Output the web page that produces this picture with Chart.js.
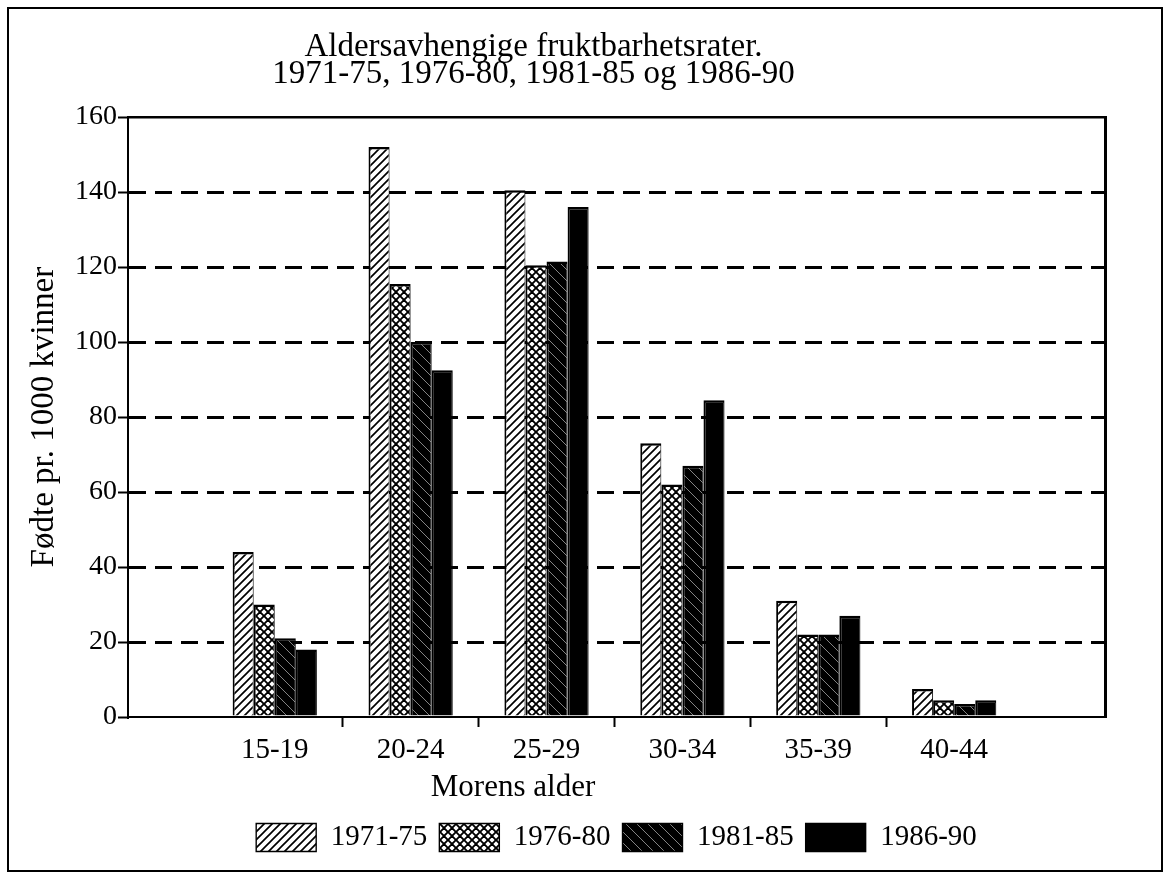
<!DOCTYPE html>
<html>
<head>
<meta charset="utf-8">
<script src="https://cdn.jsdelivr.net/npm/chart.js@4.4.1/dist/chart.umd.min.js"></script>
<style>
  html, body { margin: 0; padding: 0; background: #fff; }
  #wrap { position: relative; width: 1170px; height: 879px; }
  #frame { position: absolute; left: 7px; top: 7px; width: 1156px; height: 865px; border: 2px solid #000; box-sizing: border-box; pointer-events: none; }
</style>
</head>
<body>
<div id="wrap">
  <canvas id="myChart" width="1170" height="879"></canvas>
  <div id="frame"></div>
</div>
<script>
// births per 1000 women, by mother's age group
const ageGroups = ["15-19", "20-24", "25-29", "30-34", "35-39", "40-44"];
const periods = ["1971-75", "1976-80", "1981-85", "1986-90"];
const rates7175 = [44, 152, 140.5, 73, 31, 7.5];
const rates7680 = [30, 115.5, 120.5, 62, 22, 4.5];
const rates8185 = [21, 100, 121.5, 67, 22, 3.5];
const rates8690 = [18, 92.5, 136, 84.5, 27, 4.5];
const yTicks = [0, 20, 40, 60, 80, 100, 120, 140, 160];

const titleLines = ["Aldersavhengige fruktbarhetsrater.", "1971-75, 1976-80, 1981-85 og 1986-90"];
const xTitle = "Morens alder";
const yTitle = "Fødte pr. 1000 kvinner";

const serif = "'Liberation Serif', 'Times New Roman', serif";

let canvas = document.getElementById("myChart");
let ctx = canvas.getContext("2d");

// fill patterns like the old b/w print
function makePattern(kind) {
  const size = kind === "dark" ? 11 : 8;
  const c = document.createElement("canvas");
  c.width = size;
  c.height = size;
  const g = c.getContext("2d");
  g.fillStyle = kind === "dark" ? "#000" : "#fff";
  g.fillRect(0, 0, size, size);
  g.strokeStyle = kind === "dark" ? "#bbb" : "#000";
  g.lineWidth = kind === "cross" ? 1.9 : kind === "dark" ? 0.7 : 1.7;
  g.beginPath();
  if (kind === "diag" || kind === "cross") {
    // "/" lines
    g.moveTo(-1, size + 1); g.lineTo(size + 1, -1);
    g.moveTo(-1, 1); g.lineTo(1, -1);
    g.moveTo(size - 1, size + 1); g.lineTo(size + 1, size - 1);
  }
  if (kind === "cross" || kind === "dark") {
    // "\" lines
    g.moveTo(-1, -1); g.lineTo(size + 1, size + 1);
    g.moveTo(size - 1, -1); g.lineTo(size + 1, 1);
    g.moveTo(-1, size - 1); g.lineTo(1, size + 1);
  }
  g.stroke();
  return ctx.createPattern(c, "repeat");
}

const fills = [makePattern("diag"), makePattern("cross"), makePattern("dark"), "#000"];
const seriesValues = [rates7175, rates7680, rates8185, rates8690];

const datasets = periods.map((p, k) => ({
  label: p,
  data: seriesValues[k].map((v, i) => ({ x: i + 1, y: v })),
  backgroundColor: fills[k],
  borderColor: "#000",
  borderWidth: { top: 2.5, left: 2, right: 1, bottom: 0 },
  borderSkipped: false,
  categoryPercentage: 0.62,
  barPercentage: 1.0,
  xAxisID: "x",
  yAxisID: "y",
}));

// x title sits left of centre in the original
const xTitlePlugin = {
  id: "xTitle",
  afterDraw(chart) {
    const area = chart.chartArea;
    const c = chart.ctx;
    c.save();
    c.font = "31px " + serif;
    c.fillStyle = "#000";
    c.textAlign = "center";
    c.textBaseline = "middle";
    c.fillText(xTitle, area.left + 385, area.bottom + 71);
    c.restore();
  },
};

let theChart = new Chart(ctx, {
  type: "bar",
  data: { datasets: datasets },
  plugins: [xTitlePlugin],
  options: {
    responsive: false,
    animation: false,
    // negative left padding only moves the title centre, the plot still starts at x=128
    layout: { padding: { top: 34, right: 65, bottom: 17, left: -38 } },
    plugins: {
      tooltip: { enabled: false },
      title: {
        display: true,
        text: titleLines,
        color: "#000",
        font: { family: serif, size: 33, weight: "normal", lineHeight: 0.82 },
        padding: { top: 0, bottom: 29 },
      },
      legend: {
        position: "bottom",
        fullSize: false,
        labels: {
          color: "#000",
          font: { family: serif, size: 29 },
          boxWidth: 60,
          boxHeight: 28,
          padding: 12,
        },
      },
    },
    scales: {
      x: {
        type: "linear",
        position: "bottom",
        offset: false,
        min: -0.08,
        max: 7.11,
        afterBuildTicks: (s) => { s.ticks = ageGroups.map((_, i) => ({ value: i + 1 })); },
        afterFit: (s) => { s.height = 94; },
        ticks: {
          color: "#000",
          font: { family: serif, size: 29 },
          padding: 6,
          maxRotation: 0,
          autoSkip: false,
          callback: (v) => ageGroups[v - 1] || "",
        },
        grid: {
          offset: true,
          drawOnChartArea: false,
          drawTicks: true,
          tickLength: 10,
          tickWidth: 2,
          color: (c) => (c.index >= 1 ? "#000" : "rgba(0,0,0,0)"),
          tickColor: (c) => (c.index >= 1 ? "#000" : "rgba(0,0,0,0)"),
        },
        border: { display: true, color: "#000", width: 2 },
      },
      xTop: {
        axis: "x",
        type: "linear",
        position: "top",
        display: true,
        min: 0,
        max: 1,
        afterFit: (s) => { s.height = 0; },
        ticks: { display: false },
        grid: { display: false, drawTicks: false },
        border: { display: true, color: "#000", width: 2.5 },
      },
      y: {
        type: "linear",
        position: "left",
        min: 0,
        max: 160,
        afterBuildTicks: (s) => { s.ticks = yTicks.map((v) => ({ value: v })); },
        afterFit: (s) => { s.width = 166; },
        ticks: { color: "#000", font: { family: serif, size: 28 }, padding: 1 },
        title: {
          display: true,
          text: yTitle,
          color: "#000",
          font: { family: serif, size: 33 },
          padding: { top: 63, bottom: 0 },
        },
        grid: {
          lineWidth: 3,
          color: (c) => (c.tick && c.tick.value > 0 && c.tick.value < 160 ? "#000" : "rgba(0,0,0,0)"),
          tickColor: "#000",
          tickWidth: 2,
          tickLength: 10,
          tickBorderDash: [],
        },
        border: { display: true, color: "#000", width: 2, dash: [17, 9] },
      },
      yRight: {
        axis: "y",
        type: "linear",
        position: "right",
        display: true,
        min: 0,
        max: 1,
        afterFit: (s) => { s.width = 0; },
        ticks: { display: false },
        grid: { display: false, drawTicks: false },
        border: { display: true, color: "#000", width: 3 },
      },
    },
  },
});
</script>
</body>
</html>
